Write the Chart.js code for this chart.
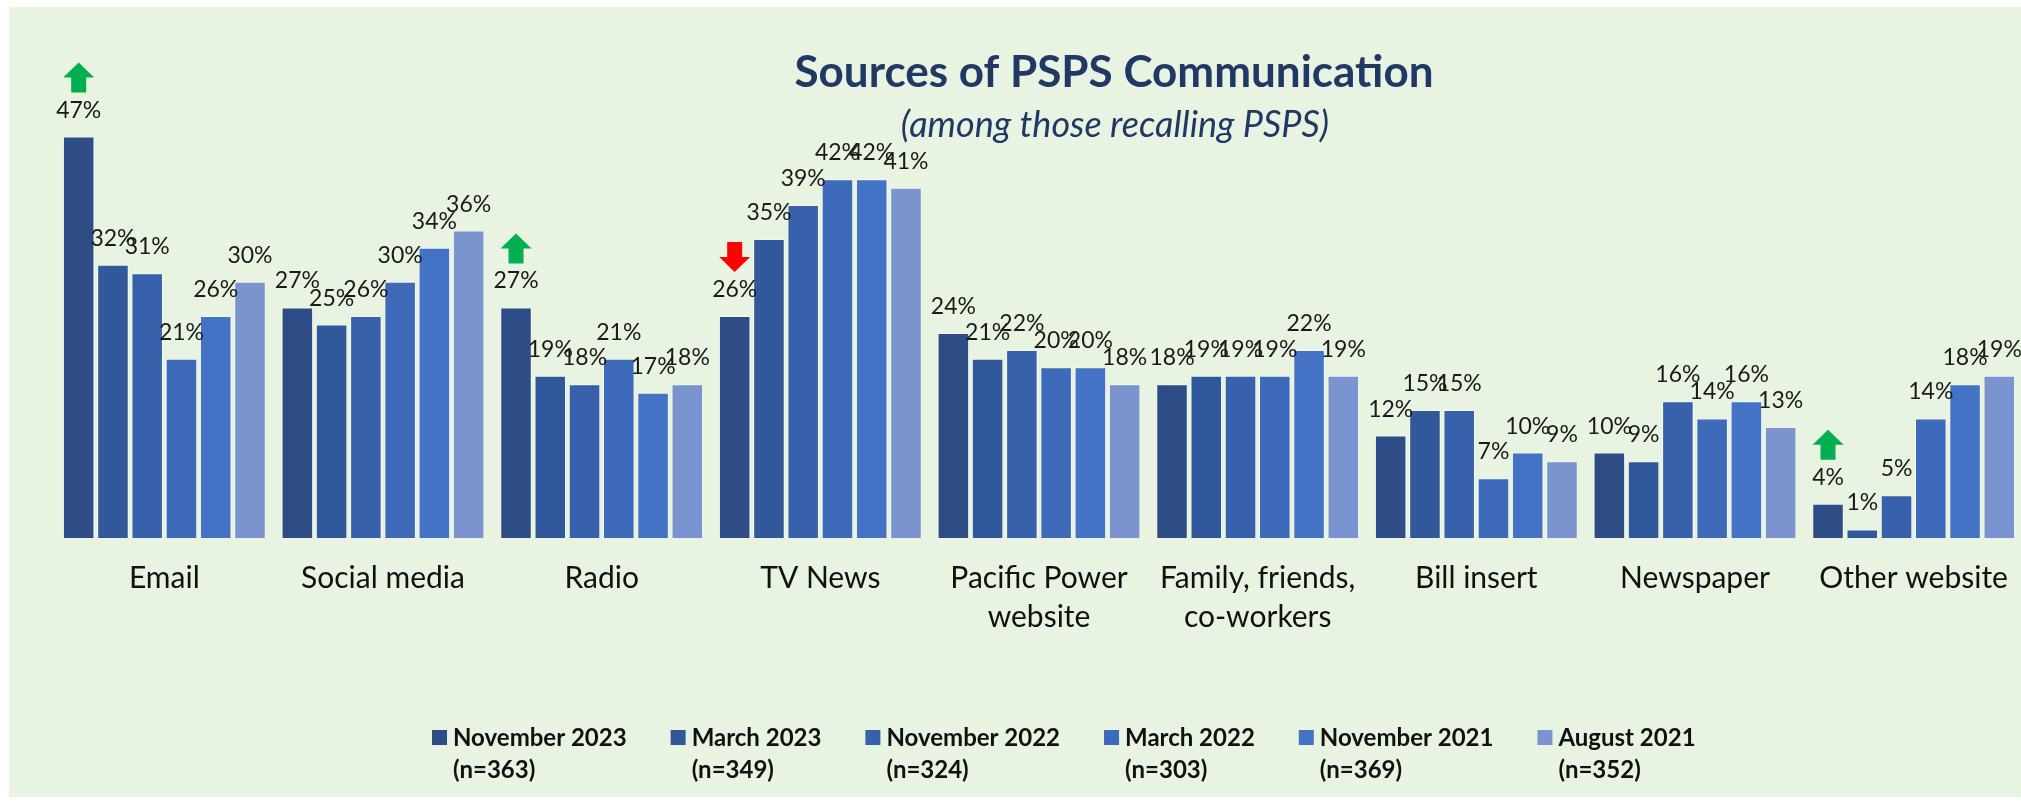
<!DOCTYPE html>
<html>
<head>
<meta charset="utf-8">
<title>Sources of PSPS Communication</title>
<script src="https://cdn.jsdelivr.net/npm/chart.js@4.4.0/dist/chart.umd.min.js"></script>
<style>
  html, body { margin: 0; padding: 0; background: #fff; overflow: hidden; width: 2021px; height: 801px; }
  #chart { position: absolute; left: 0; top: 0; }
</style>
</head>
<body>
<canvas id="chart" width="2030" height="801"></canvas>
<script>
// Categories (x axis), two-line labels where the original wraps
const categories = [
  'Email',
  'Social media',
  'Radio',
  'TV News',
  ['Pacific Power', 'website'],
  ['Family, friends,', 'co-workers'],
  'Bill insert',
  'Newspaper',
  'Other website'
];

// Survey waves, newest first
const waveNames = ['November 2023', 'March 2023', 'November 2022', 'March 2022', 'November 2021', 'August 2021'];
const waveSizes = ['(n=363)', '(n=349)', '(n=324)', '(n=303)', '(n=369)', '(n=352)'];
const waveColors = ['#2E4D87', '#31589B', '#3761AA', '#3D6AB9', '#4472C4', '#7B93CF'];

// Percent recalling each source, one array per wave
const nov2023 = [47, 27, 27, 26, 24, 18, 12, 10, 4];
const mar2023 = [32, 25, 19, 35, 21, 19, 15, 9, 1];
const nov2022 = [31, 26, 18, 39, 22, 19, 15, 16, 5];
const mar2022 = [21, 30, 21, 42, 20, 19, 7, 14, 14];
const nov2021 = [26, 34, 17, 42, 20, 22, 10, 16, 18];
const aug2021 = [30, 36, 18, 41, 18, 19, 9, 13, 19];

// Significant change markers on the latest wave
const latestChange = ['up', null, 'up', 'down', null, null, null, null, 'up'];

const FONT = 'Lato, "Open Sans", sans-serif';
const series = [nov2023, mar2023, nov2022, mar2022, nov2021, aug2021];

// background panel, title, subtitle and the two-line legend
const decorPlugin = {
  id: 'decor',
  beforeDraw(chart) {
    const ctx = chart.ctx;
    ctx.save();
    ctx.fillStyle = '#ffffff';
    ctx.fillRect(0, 0, chart.width, chart.height);
    ctx.fillStyle = '#E8F3E2';
    ctx.fillRect(9, 7, chart.width - 9, 790);
    ctx.restore();
  },
  afterDraw(chart) {
    const ctx = chart.ctx;
    ctx.save();
    ctx.textAlign = 'center';
    ctx.textBaseline = 'alphabetic';
    ctx.fillStyle = '#203864';
    ctx.font = 'bold 44px ' + FONT;
    ctx.fillText('Sources of PSPS Communication', 1114, 87);
    ctx.font = 'italic 36px ' + FONT;
    ctx.fillText('(among those recalling PSPS)', 1115, 137);

    // legend
    ctx.textAlign = 'left';
    ctx.font = 'bold 24px ' + FONT;
    let x = 432;
    waveNames.forEach((name, i) => {
      ctx.fillStyle = waveColors[i];
      ctx.fillRect(x, 730, 15, 15);
      ctx.fillStyle = '#111111';
      ctx.fillText(name, x + 21, 746);
      ctx.fillText(waveSizes[i], x + 21, 778);
      const w = Math.max(ctx.measureText(name).width, ctx.measureText(waveSizes[i]).width);
      x += 21 + w + 44;
    });
    ctx.restore();
  }
};

function drawArrow(ctx, cx, top, dir, color) {
  const h = 30, headH = 15, headW = 31, shaftW = 15;
  ctx.beginPath();
  if (dir === 'up') {
    ctx.moveTo(cx, top);
    ctx.lineTo(cx + headW / 2, top + headH);
    ctx.lineTo(cx + shaftW / 2, top + headH);
    ctx.lineTo(cx + shaftW / 2, top + h);
    ctx.lineTo(cx - shaftW / 2, top + h);
    ctx.lineTo(cx - shaftW / 2, top + headH);
    ctx.lineTo(cx - headW / 2, top + headH);
  } else {
    ctx.moveTo(cx - shaftW / 2, top);
    ctx.lineTo(cx + shaftW / 2, top);
    ctx.lineTo(cx + shaftW / 2, top + h - headH);
    ctx.lineTo(cx + headW / 2, top + h - headH);
    ctx.lineTo(cx, top + h);
    ctx.lineTo(cx - headW / 2, top + h - headH);
    ctx.lineTo(cx - shaftW / 2, top + h - headH);
  }
  ctx.closePath();
  ctx.fillStyle = color;
  ctx.fill();
}

// percent labels above every bar, plus change arrows
const labelPlugin = {
  id: 'barLabels',
  afterDatasetsDraw(chart) {
    const ctx = chart.ctx;
    ctx.save();
    ctx.font = '23px ' + FONT;
    ctx.fillStyle = '#1a1a1a';
    ctx.textAlign = 'center';
    ctx.textBaseline = 'alphabetic';
    chart.data.datasets.forEach((ds, di) => {
      chart.getDatasetMeta(di).data.forEach((bar, i) => {
        ctx.fillText(ds.data[i] + '%', bar.x, bar.y - 19);
      });
    });
    chart.getDatasetMeta(0).data.forEach((bar, i) => {
      const dir = latestChange[i];
      if (!dir) return;
      drawArrow(ctx, bar.x, bar.y - 74, dir, dir === 'up' ? '#00B050' : '#FF0000');
    });
    ctx.restore();
  }
};

new Chart(document.getElementById('chart'), {
  type: 'bar',
  data: {
    labels: categories,
    datasets: series.map((values, i) => ({
      label: waveNames[i],
      data: values,
      backgroundColor: waveColors[i],
      borderColor: 'rgba(255,255,255,0.45)',
      borderWidth: 1,
      barPercentage: 0.92,
      categoryPercentage: 0.94
    }))
  },
  options: {
    responsive: false,
    animation: false,
    layout: { padding: { left: 55, right: 7, top: 111, bottom: 133 } },
    plugins: {
      legend: { display: false },
      tooltip: { enabled: false }
    },
    scales: {
      x: {
        grid: { display: false, drawTicks: false, tickLength: 0 },
        border: { display: false },
        ticks: {
          autoSkip: false,
          maxRotation: 0,
          padding: 21,
          color: '#111111',
          font: { family: FONT, size: 30, lineHeight: 1.3 }
        },
        afterFit(scale) { scale.height = 130; }
      },
      y: {
        display: false,
        min: 0,
        max: 50
      }
    }
  },
  plugins: [decorPlugin, labelPlugin]
});
</script>
</body>
</html>
